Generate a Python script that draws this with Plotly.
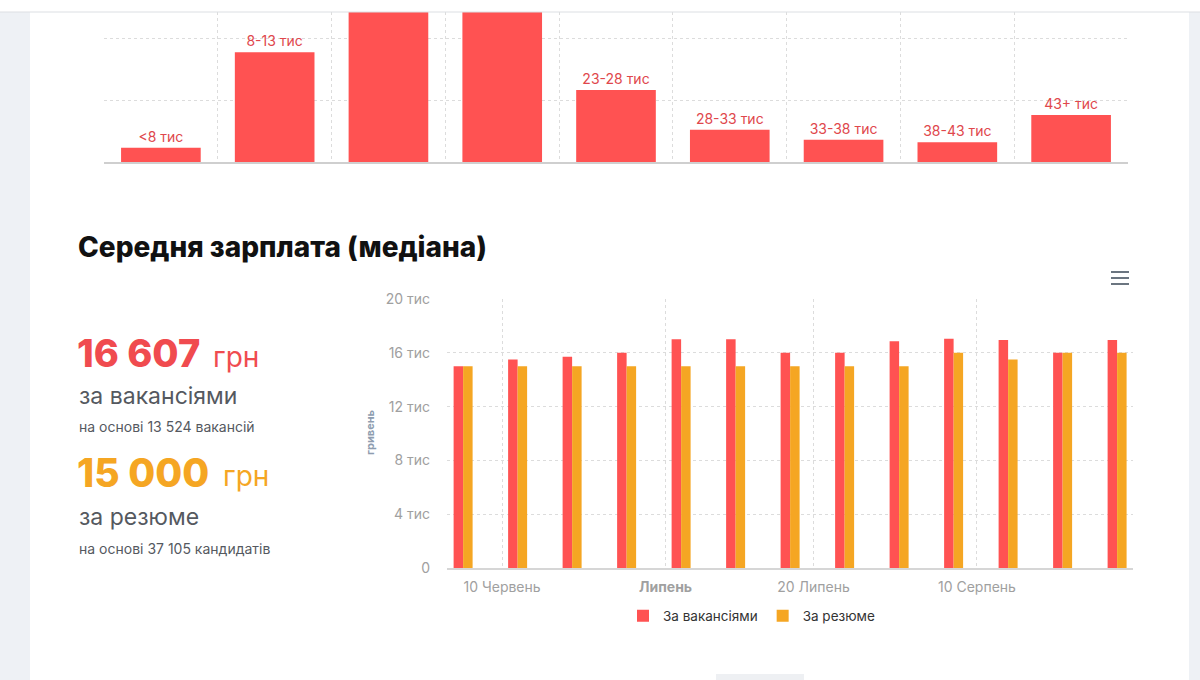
import plotly.graph_objects as go

# ---------------- data ----------------
dist_categories = ["<8 тис", "8-13 тис", "13-18 тис", "18-23 тис", "23-28 тис",
                   "28-33 тис", "33-38 тис", "38-43 тис", "43+ тис"]
dist_values = [2.3, 17.7, 29.0, 27.5, 11.6, 5.2, 3.6, 3.2, 7.6]
dist_ymax = 24.2

week_dates = ["2019-06-05", "2019-06-12", "2019-06-19", "2019-06-26", "2019-07-03",
              "2019-07-10", "2019-07-17", "2019-07-24", "2019-07-31", "2019-08-07",
              "2019-08-14", "2019-08-21", "2019-08-28"]
salary_vacancies = [15000, 15500, 15700, 16000, 17000, 17000, 16000, 16000, 16850,
                    17050, 16950, 16000, 16950]
salary_resumes = [15000, 15000, 15000, 15000, 15000, 15000, 15000, 15000, 15000,
                  16000, 15500, 16000, 16000]

y_tickvals = [0, 4000, 8000, 12000, 16000, 20000]
y_ticktext = ["0", "4 тис", "8 тис", "12 тис", "16 тис", "20 тис"]
x_tickvals = ["2019-06-10", "2019-07-01", "2019-07-20", "2019-08-10"]
x_ticktext = ["10 Червень", "<b>Липень</b>", "20 Липень", "10 Серпень"]

series_names = ["За вакансіями", "За резюме"]

RED = "#ff5252"
ORANGE = "#f5a623"
FONT = "Inter, Roboto, sans-serif"

W, H = 1200, 680


def px(x):
    return x / W


def py(y):
    return 1 - y / H


fig = go.Figure()

# ---------- top distribution chart ----------
fig.add_trace(go.Bar(
    x=list(range(len(dist_categories))), y=dist_values,
    width=0.7, marker=dict(color=RED, line=dict(width=0)),
    text=[c if v < dist_ymax else "" for c, v in zip(dist_categories, dist_values)],
    textposition="outside", cliponaxis=True,
    textfont=dict(family=FONT, size=14, color="#e0474c"),
    xaxis="x", yaxis="y", showlegend=False, hoverinfo="skip",
))

# ---------- bottom median salary chart ----------
bw = 1.22 * 86400000
fig.add_trace(go.Bar(
    x=week_dates, y=salary_vacancies, name=series_names[0],
    width=bw, offset=-bw, marker=dict(color=RED, line=dict(width=0)),
    xaxis="x2", yaxis="y2",
))
fig.add_trace(go.Bar(
    x=week_dates, y=salary_resumes, name=series_names[1],
    width=bw, offset=0, marker=dict(color=ORANGE, line=dict(width=0)),
    xaxis="x2", yaxis="y2",
))

grid = "#dcdcdc"

fig.update_layout(
    width=W, height=H,
    margin=dict(l=0, r=0, t=0, b=0, pad=0, autoexpand=False),
    paper_bgcolor="white", plot_bgcolor="white",
    barmode="overlay",
    font=dict(family=FONT),
    xaxis=dict(domain=[px(104), px(1128)], range=[-0.5, 8.5],
               tickmode="linear", tick0=0.5, dtick=1, showticklabels=False,
               showgrid=True, gridcolor=grid, griddash="dot", gridwidth=1,
               showline=True, linecolor="#cfcfcf", linewidth=2,
               zeroline=False, fixedrange=True, anchor="y"),
    yaxis=dict(domain=[py(162), py(12)], range=[0, dist_ymax],
               tickvals=[0, 10, 20], showticklabels=False,
               showgrid=True, gridcolor=grid, griddash="dot",
               zeroline=False, anchor="x"),
    xaxis2=dict(domain=[px(447), px(1133)], type="date",
                range=["2019-06-02 22:20", "2019-08-30 01:00"],
                tickvals=x_tickvals, ticktext=x_ticktext,
                tickfont=dict(family=FONT, size=14, color="#a0a0a0"),
                ticklabelstandoff=5,
                showgrid=True, gridcolor=grid, griddash="dot",
                showline=True, linecolor="#d6d6d6", linewidth=2,
                ticks="", zeroline=False, anchor="y2"),
    yaxis2=dict(domain=[py(568), py(299)], range=[0, 20000],
                tickvals=y_tickvals, ticktext=y_ticktext,
                tickfont=dict(family=FONT, size=14, color="#a0a0a0"),
                ticklabelstandoff=16,
                showgrid=True, gridcolor=grid, griddash="dot",
                zeroline=False, anchor="x2"),
    legend=dict(orientation="h", x=px(623), y=py(616), xanchor="left",
                yanchor="middle", font=dict(family=FONT, size=13.5, color="#333333"),
                bgcolor="rgba(0,0,0,0)", itemclick=False, traceorder="normal"),
)

# ---------- page decorations ----------
shapes = [
    dict(type="rect", xref="paper", yref="paper", x0=0, x1=px(30), y0=0, y1=py(12),
         fillcolor="#eef1f5", line=dict(width=0), layer="below"),
    dict(type="rect", xref="paper", yref="paper", x0=px(1189), x1=1, y0=0, y1=py(12),
         fillcolor="#eef1f5", line=dict(width=0), layer="below"),
    dict(type="line", xref="paper", yref="paper", x0=0, x1=1, y0=py(12), y1=py(12),
         line=dict(color="#dcdfe3", width=1)),
    dict(type="rect", xref="paper", yref="paper", x0=px(716), x1=px(804), y0=0, y1=py(674),
         fillcolor="#eef0f3", line=dict(width=0)),
]
for yy in (272, 278, 284):
    shapes.append(dict(type="line", xref="paper", yref="paper", x0=px(1111), x1=px(1129),
                       y0=py(yy), y1=py(yy), line=dict(color="#6b7580", width=2)))
fig.update_layout(shapes=shapes)

ann = []


def text(x, y, s, size, color, weight="normal", anchor="left"):
    ann.append(dict(xref="paper", yref="paper", x=px(x), y=py(y), text=s,
                    showarrow=False, xanchor=anchor, yanchor="middle",
                    font=dict(family=FONT, size=size, color=color, weight=weight)))


text(76, 247, "Середня зарплата (медіана)", 28, "#111111", weight=800)
text(75, 353, "16 607", 38, "#f04b4f", weight=800)
text(211, 357, "грн", 28, "#f04b4f")
text(77, 396, "за вакансіями", 23, "#55595f")
text(77, 426, "на основі 13 524 вакансій", 14, "#55595f")
text(75, 472, "15 000", 39, ORANGE, weight=800)
text(221, 476, "грн", 28, ORANGE)
text(77, 517, "за резюме", 23, "#55595f")
text(77, 548, "на основі 37 105 кандидатів", 14, "#55595f")
ann.append(dict(xref="paper", yref="paper", x=px(370), y=py(432), text="<b>гривень</b>",
                textangle=-90, showarrow=False, xanchor="center", yanchor="middle",
                font=dict(family=FONT, size=11, color="#8e9db0")))
fig.update_layout(annotations=ann)

fig.write_html(
    "out.html",
    config={"displayModeBar": False},
    post_script=(
        "document.documentElement.style.margin='0';"
        "document.body.style.margin='0';document.body.style.overflow='hidden';"
        "var d=document.getElementById('{plot_id}');"
        "d.style.position='fixed';d.style.top='0px';d.style.left='0px';"
    ),
)
